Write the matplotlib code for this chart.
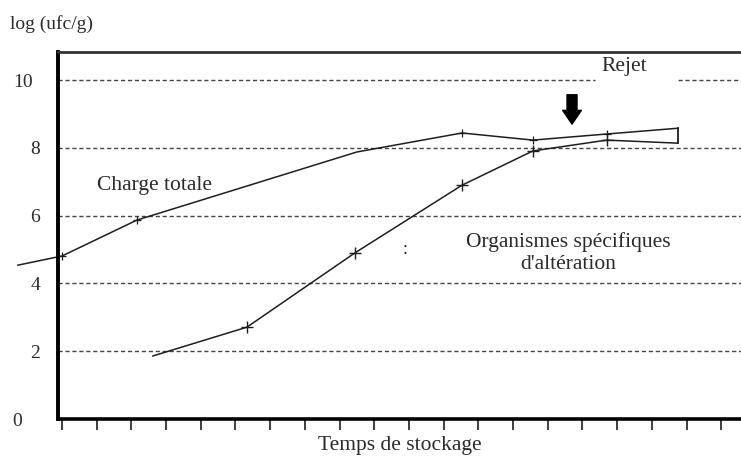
import numpy as np
import matplotlib
matplotlib.use("Agg")
import matplotlib.pyplot as plt
import matplotlib.transforms as mtransforms

plt.rcParams['font.family'] = ['Liberation Serif', 'DejaVu Serif']

# (x in storage-time tick units, y in log ufc/g)
charge_x = [-1.27, 0.0, 2.16, 8.5, 11.53, 13.57, 15.7, 17.75]
charge_y = [4.54, 4.81, 5.87, 7.88, 8.44, 8.23, 8.41, 8.58]
osa_x = [2.62, 5.33, 8.44, 11.53, 13.57, 15.7, 17.75]
osa_y = [1.86, 2.71, 4.90, 6.90, 7.91, 8.23, 8.14]
grid_levels = [2, 4, 6, 8, 10]
yticks = [0, 2, 4, 6, 8, 10]
xticks = list(range(20))
rejet_gap = (15.36, 17.75)   # "Rejet" sits in a gap of the 10 line
arrow_x, arrow_top, arrow_bottom = 14.7, 9.65, 8.62
dot_x, dot_y = 9.88, 5.0

ink = '#1e1e1e'
fig = plt.figure(figsize=(7.41, 4.59), dpi=100)
ax = fig.add_axes([58/741, 1 - 419/459, 1 - 58/741, (419 - 52)/459])
ax.set_xlim(-0.115, 19.57)
ax.set_ylim(0, 10.83)

# dashed reference levels
for lev in grid_levels:
    if lev == 10:
        ax.plot([-0.115, rejet_gap[0]], [lev, lev], ls=(0, (3, 2)), lw=1.0, color='#444')
        ax.plot([rejet_gap[1], 19.57], [lev, lev], ls=(0, (3, 2)), lw=1.0, color='#444')
    else:
        ax.axhline(lev, ls=(0, (3, 2)), lw=1.0, color='#444')

ax.plot(charge_x, charge_y, color=ink, lw=1.1, marker='+', ms=6, mew=0.9,
        markevery=[1, 2, 4, 5, 6], clip_on=False)
ax.plot(osa_x, osa_y, color=ink, lw=1.1, marker='+', ms=9, mew=1.0,
        markevery=[1, 2, 3, 4, 5])
# closing bar between the two curves at the last sampling
ax.plot([charge_x[-1], osa_x[-1]], [charge_y[-1], osa_y[-1]], color=ink, lw=1.3)

ax.annotate('', xy=(arrow_x, arrow_bottom), xytext=(arrow_x, arrow_top),
            arrowprops=dict(arrowstyle='simple,head_length=0.55,head_width=0.75,tail_width=0.4',
                            color='black', mutation_scale=18))
ax.text(dot_x, dot_y, ':', fontsize=13, color=ink, ha='center', va='center')

tsize = 15.5
ax.text(1.0, 6.9, 'Charge totale', fontsize=tsize, color='#2a2a2a', ha='left', va='center')
ax.text(14.6, 5.22, 'Organismes spécifiques', fontsize=tsize, color='#2a2a2a',
        ha='center', va='center')
ax.text(14.6, 4.57, "d'altération", fontsize=tsize, color='#2a2a2a', ha='center', va='center')
ax.text(16.2, 10.4, 'Rejet', fontsize=tsize, color='#2a2a2a', ha='center', va='center')

fig.text(10/741, 1 - 24/459, 'log (ufc/g)', fontsize=14, color='#2a2a2a', ha='left', va='center')
ax.set_xlabel('Temps de stockage', fontsize=tsize, color='#2a2a2a', labelpad=1)

ax.set_xticks(xticks)
ax.set_xticklabels([])
ax.tick_params(axis='x', direction='out', length=8, width=1.2, color=ink)
ax.set_yticks(yticks)
ax.set_yticklabels([str(v) for v in yticks])
ax.tick_params(axis='y', length=0, pad=13, labelsize=14, labelcolor='#2a2a2a')
labs = ax.get_yticklabels()
labs[0].set_transform(labs[0].get_transform() + mtransforms.ScaledTranslation(-0.18, 0, fig.dpi_scale_trans))
labs[-1].set_transform(labs[-1].get_transform() + mtransforms.ScaledTranslation(-0.07, 0, fig.dpi_scale_trans))

ax.spines['right'].set_visible(False)
ax.spines['left'].set_linewidth(2.8)
ax.spines['left'].set_color('black')
ax.spines['bottom'].set_linewidth(2.6)
ax.spines['bottom'].set_color('black')
ax.spines['top'].set_linewidth(2.0)
ax.spines['top'].set_color('#333')

fig.savefig('out.png', dpi=100)
